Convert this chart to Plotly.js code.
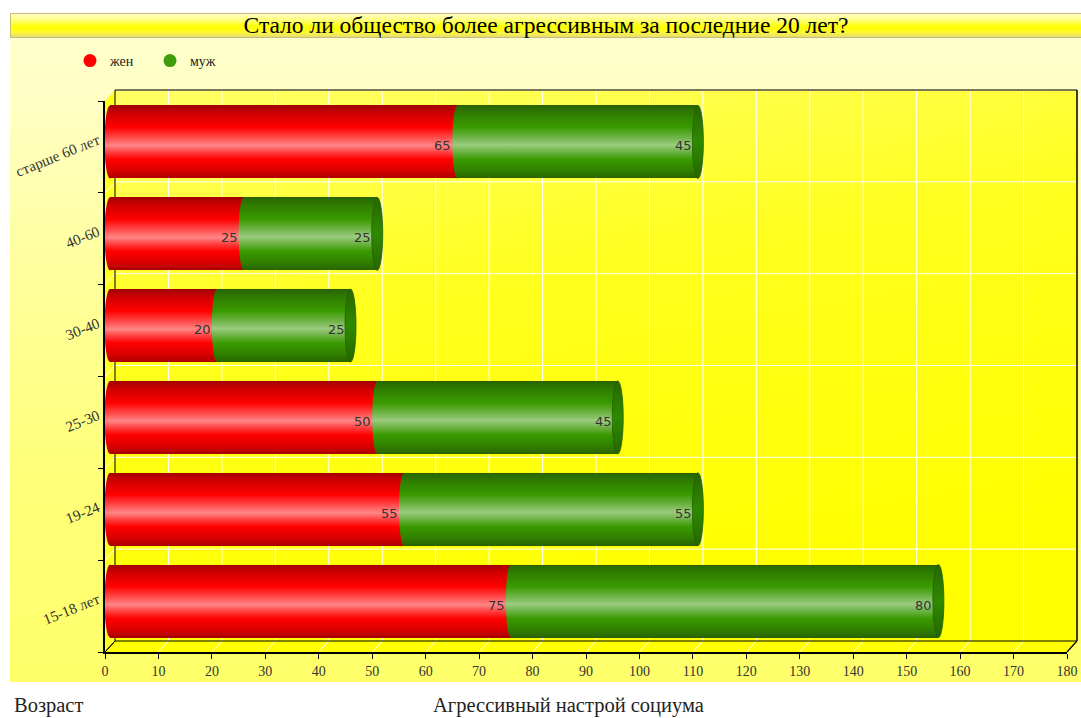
<!DOCTYPE html>
<html><head><meta charset="utf-8">
<script src="https://cdn.plot.ly/plotly-3.0.1.min.js"></script>
<style>
html,body{margin:0;padding:0;background:#fff;}
#wrap{position:relative;width:1081px;height:718px;overflow:hidden;}
#bg{position:absolute;left:10px;top:38px;width:1071px;height:644px;
  background:linear-gradient(to bottom,#ffffcc 0%,#ffffc4 10%,#ffff98 40%,#ffff78 70%,#ffff6a 100%);}
#tbar{position:absolute;left:10px;top:13px;width:1071px;height:25px;box-sizing:border-box;
  border:1px solid #c4bc74;border-right:none;
  background:linear-gradient(to bottom,#fffcc8 0%,#ffff70 30%,#ffff00 55%,#fff830 80%,#e4dc78 100%);}
#chart{position:absolute;left:0;top:0;width:1081px;height:718px;}
</style></head><body>
<div id="wrap"><div id="bg"></div><div id="tbar"></div><div id="chart"></div></div>
<svg width="0" height="0" style="position:absolute;left:0;top:0">
<defs>
<linearGradient id="gRed" x1="0" y1="0" x2="0" y2="1">
  <stop offset="0" stop-color="#a00000"/><stop offset="0.1" stop-color="#cc0000"/>
  <stop offset="0.3" stop-color="#ff0000"/><stop offset="0.44" stop-color="#ff4a4a"/>
  <stop offset="0.55" stop-color="#ff8686"/><stop offset="0.64" stop-color="#ff4040"/>
  <stop offset="0.74" stop-color="#ff0000"/><stop offset="0.9" stop-color="#d80000"/>
  <stop offset="1" stop-color="#a80000"/>
</linearGradient>
<linearGradient id="gGreen" x1="0" y1="0" x2="0" y2="1">
  <stop offset="0" stop-color="#286400"/><stop offset="0.12" stop-color="#307e00"/>
  <stop offset="0.3" stop-color="#3a9a00"/><stop offset="0.44" stop-color="#6fb448"/>
  <stop offset="0.54" stop-color="#9ccb7e"/><stop offset="0.63" stop-color="#6fb448"/>
  <stop offset="0.74" stop-color="#3a9a00"/><stop offset="0.9" stop-color="#307e00"/>
  <stop offset="1" stop-color="#286400"/>
</linearGradient>
<linearGradient id="gCap" x1="0" y1="0" x2="0" y2="1">
  <stop offset="0" stop-color="#276600"/><stop offset="0.5" stop-color="#2f8a00"/>
  <stop offset="1" stop-color="#276600"/>
</linearGradient>
<linearGradient id="gWall" x1="0" y1="0" x2="0.3" y2="1">
  <stop offset="0" stop-color="#ffff66"/><stop offset="0.45" stop-color="#ffff1c"/>
  <stop offset="1" stop-color="#ffff00"/>
</linearGradient>
</defs></svg>
<script>
// ---- data ----
const categories = ['15-18 лет', '19-24', '25-30', '30-40', '40-60', 'старше 60 лет'];
const women = [75, 55, 50, 20, 25, 65];
const men = [80, 55, 45, 25, 25, 45];
const seriesNames = ['жен', 'муж'];
const xMax = 180;
const xStep = 10;
const titleText = 'Стало ли общество более агрессивным за последние 20 лет?';
const yTitle = 'Возраст';
const xTitle = 'Агрессивный настрой социума';

// ---- geometry (styles) ----
const W = 1081, H = 718;
const ML = 105, MR = 9, MT = 96, MB = 66;
const PW = W - ML - MR, PH = H - MT - MB;
const MIDX = 5, MIDY = 5;      // bars sit at mid depth
const DX = 10, DY = 11;        // front -> back wall
const BARW = 0.795;
const CATPX = (PH - MIDY) / categories.length;
const BARHALF = BARW / 2 * CATPX;
const px2x = p => (p - ML) / PW;
const px2y = p => (H - MB - p) / PH;
const frontL = ML, frontR = ML + PW - MIDX, frontB = H - MB, frontT = MT + MIDY;
const wallL = frontL + DX, wallR = frontR + DX, wallT = frontT - DY, wallB = frontB - DY;
const serif = 'Liberation Serif, Times New Roman, serif';

const data = [
  {type: 'bar', orientation: 'h', name: seriesNames[0], y: categories, x: women,
   xaxis: 'x', yaxis: 'y', width: BARW, marker: {color: '#ff0000', line: {width: 0}}, showlegend: false, hoverinfo: 'skip'},
  {type: 'bar', orientation: 'h', name: seriesNames[1], y: categories, x: men,
   xaxis: 'x', yaxis: 'y', width: BARW, marker: {color: '#3a9a00', line: {width: 0}}, showlegend: false, hoverinfo: 'skip'},
  {type: 'scatter', mode: 'markers', name: seriesNames[0], y: categories, x: categories.map(() => null),
   xaxis: 'x2', yaxis: 'y2', marker: {symbol: 'circle', size: 13, color: '#ff0000'}, hoverinfo: 'skip'},
  {type: 'scatter', mode: 'markers', name: seriesNames[1], y: categories, x: categories.map(() => null),
   xaxis: 'x2', yaxis: 'y2', marker: {symbol: 'circle', size: 13, color: '#3f9c0c'}, hoverinfo: 'skip'}
];

const shapes = [];
const fills = [];
function add(s, fillUrl) { shapes.push(s); if (fillUrl) fills.push([shapes.length - 1, fillUrl]); }

// back wall
add({type: 'rect', layer: 'below', xref: 'paper', yref: 'paper', x0: px2x(wallL), x1: px2x(wallR),
     y0: px2y(wallB), y1: px2y(wallT), fillcolor: '#ffff33', line: {width: 0}}, 'url(#gWall)');
// left wall
add({type: 'path', layer: 'below', xref: 'paper', yref: 'paper',
     path: `M${px2x(frontL)},${px2y(frontT)} L${px2x(wallL)},${px2y(wallT)} L${px2x(wallL)},${px2y(wallB)} L${px2x(frontL)},${px2y(frontB)} Z`,
     fillcolor: '#ffff20', line: {width: 0}});
// floor
add({type: 'path', layer: 'below', xref: 'paper', yref: 'paper',
     path: `M${px2x(frontL)},${px2y(frontB)} L${px2x(wallL)},${px2y(wallB)} L${px2x(wallR)},${px2y(wallB)} L${px2x(frontR)},${px2y(frontB)} Z`,
     fillcolor: '#ffff00', line: {width: 0}});
// vertical grid on wall + floor diagonals
for (let v = 0; v < xMax; v += xStep) {
  if (v > 0) {
    add({type: 'line', layer: 'below', xref: 'x2', xsizemode: 'pixel', xanchor: v, x0: DX, x1: DX,
         yref: 'paper', y0: px2y(wallB), y1: px2y(wallT), line: {color: '#ffffff', width: 1}});
  }
  add({type: 'line', layer: 'below', xref: 'x2', xsizemode: 'pixel', xanchor: v, x0: 0, x1: DX,
       yref: 'paper', ysizemode: 'pixel', yanchor: 0, y0: 0, y1: DY,
       line: {color: v === 0 ? '#000000' : '#ffffff', width: 1}});
}
// floor right edge
add({type: 'line', layer: 'below', xref: 'paper', yref: 'paper', x0: px2x(frontR), x1: px2x(wallR),
     y0: px2y(frontB), y1: px2y(wallB), line: {color: '#000000', width: 1.2}});
// horizontal grid on wall + left wall diagonals (category boundaries)
for (let k = 0; k <= categories.length; k++) {
  const b = k - 0.5;
  if (k > 0 && k < categories.length) {
    add({type: 'line', layer: 'below', yref: 'y2', ysizemode: 'pixel', yanchor: b, y0: DY, y1: DY,
         xref: 'paper', x0: px2x(wallL), x1: px2x(wallR), line: {color: '#ffffff', width: 1}});
  }
  add({type: 'line', layer: 'below', yref: 'y2', ysizemode: 'pixel', yanchor: b, y0: 0, y1: DY,
       xref: 'paper', x0: px2x(frontL), x1: px2x(wallL),
       line: {color: (k === 0 || k === categories.length) ? '#000000' : '#ffffff', width: 1}});
}
// wall borders
add({type: 'line', layer: 'below', xref: 'paper', yref: 'paper', x0: px2x(wallL), x1: px2x(wallR),
     y0: px2y(wallT), y1: px2y(wallT), line: {color: '#7a7a5a', width: 2}});
add({type: 'line', layer: 'below', xref: 'paper', yref: 'paper', x0: px2x(wallL), x1: px2x(wallL),
     y0: px2y(wallB), y1: px2y(wallT), line: {color: '#000000', width: 1}});
add({type: 'line', layer: 'below', xref: 'paper', yref: 'paper', x0: px2x(wallR), x1: px2x(wallR),
     y0: px2y(wallB), y1: px2y(wallT), line: {color: '#000000', width: 1.5}});
add({type: 'line', layer: 'below', xref: 'paper', yref: 'paper', x0: px2x(wallL), x1: px2x(wallR),
     y0: px2y(wallB), y1: px2y(wallB), line: {color: '#000000', width: 1}});

// cylinder caps: rounded left ends (front axes, shifted to mid depth)
categories.forEach((c, i) => {
  add({type: 'circle', layer: 'below', xref: 'x2', xsizemode: 'pixel', xanchor: 0, x0: MIDX - 5.5, x1: MIDX + 5.5,
       yref: 'y2', ysizemode: 'pixel', yanchor: i, y0: MIDY - BARHALF, y1: MIDY + BARHALF,
       fillcolor: '#ff0000', line: {width: 0}}, 'url(#gRed)');
});
categories.forEach((c, i) => {
  add({type: 'circle', layer: 'above', xref: 'x', xsizemode: 'pixel', xanchor: women[i], x0: -5, x1: 5,
       yref: 'y', y0: i - BARW / 2, y1: i + BARW / 2, fillcolor: '#3a9a00', line: {width: 0}}, 'url(#gGreen)');
  add({type: 'circle', layer: 'above', xref: 'x', xsizemode: 'pixel', xanchor: women[i] + men[i], x0: -5.5, x1: 5.5,
       yref: 'y', y0: i - BARW / 2, y1: i + BARW / 2, fillcolor: '#2f8a00', line: {color: '#256000', width: 0.8}}, 'url(#gCap)');
});

// value labels
const annotations = [];
categories.forEach((c, i) => {
  [[women[i], women[i]], [men[i], women[i] + men[i]]].forEach(([val, end]) => {
    annotations.push({xref: 'x', yref: 'y', x: end, y: c, text: String(val), showarrow: false,
      xanchor: 'right', yanchor: 'middle', xshift: -4, yshift: -4,
      font: {family: 'DejaVu Sans, Verdana, sans-serif', size: 13, color: '#333333'}});
  });
});
annotations.push({xref: 'paper', yref: 'paper', x: px2x(12), y: px2y(705), xanchor: 'left', yanchor: 'middle',
  text: yTitle, showarrow: false, font: {family: serif, size: 20.5, color: '#222'}});
annotations.push({xref: 'paper', yref: 'paper', x: px2x(431), y: px2y(705), xanchor: 'left', yanchor: 'middle',
  text: xTitle, showarrow: false, font: {family: serif, size: 20.5, color: '#222'}});

const layout = {
  width: W, height: H,
  margin: {l: ML, r: MR, t: MT, b: MB, pad: 0},
  paper_bgcolor: 'rgba(0,0,0,0)', plot_bgcolor: 'rgba(0,0,0,0)',
  font: {family: serif, size: 14, color: '#333'},
  title: {text: titleText, font: {family: serif, size: 23.5, color: '#000'},
          x: 546 / W, xref: 'container', xanchor: 'center', y: 1 - 25 / H, yref: 'container', yanchor: 'middle', pad: {t: 0, b: 0}},
  barmode: 'stack',
  showlegend: true,
  legend: {orientation: 'h', traceorder: 'normal', xref: 'container', yref: 'container', x: 70 / W, y: 1 - 45 / H,
           xanchor: 'left', yanchor: 'top', bgcolor: 'rgba(0,0,0,0)', borderwidth: 0,
           entrywidth: 35, entrywidthmode: 'pixels',
           font: {family: serif, size: 14, color: '#222'}, itemclick: false},
  xaxis: {domain: [MIDX / PW, 1], range: [0, xMax], anchor: 'y', visible: false, fixedrange: true},
  yaxis: {domain: [MIDY / PH, 1], range: [-0.5, categories.length - 0.5], type: 'category',
          categoryorder: 'array', categoryarray: categories, anchor: 'x', visible: false, fixedrange: true},
  xaxis2: {domain: [0, 1 - MIDX / PW], range: [0, xMax], anchor: 'y2', dtick: xStep, tick0: 0,
           showgrid: false, zeroline: false, showline: true, linecolor: '#000', linewidth: 2,
           ticks: 'outside', ticklen: 5, tickcolor: '#000', tickwidth: 1,
           tickfont: {family: serif, size: 14, color: '#333'}, fixedrange: true},
  yaxis2: {domain: [0, 1 - MIDY / PH], range: [-0.5, categories.length - 0.5], type: 'category',
           categoryorder: 'array', categoryarray: categories, anchor: 'x2',
           showgrid: false, zeroline: false, showline: true, linecolor: '#000', linewidth: 2,
           ticks: 'outside', ticklen: 5, tickcolor: '#000', tickson: 'boundaries', tickangle: -22,
           ticklabelshift: -8, ticklabelstandoff: 2,
           tickfont: {family: serif, size: 15, color: '#333'}, fixedrange: true},
  shapes: shapes,
  annotations: annotations
};

Plotly.newPlot('chart', data, layout, {staticPlot: true, displayModeBar: false}).then(gd => {
  const tr = gd.querySelectorAll('.barlayer .trace');
  tr.forEach((t, ti) => {
    t.querySelectorAll('path').forEach(p => { p.style.fill = ti === 0 ? 'url(#gRed)' : 'url(#gGreen)'; });
  });
  fills.forEach(([idx, url]) => {
    gd.querySelectorAll('.shapelayer [data-index="' + idx + '"]').forEach(el => {
      const p = el.tagName.toLowerCase() === 'path' ? el : el.querySelector('path');
      if (p) p.style.fill = url;
    });
  });
});
</script>
</body></html>
